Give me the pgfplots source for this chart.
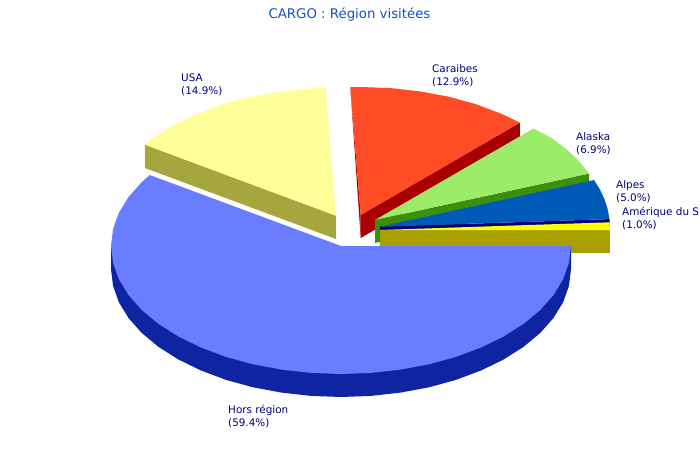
\documentclass[border=0pt]{standalone}
\usepackage{fontspec}
\setmainfont{DejaVu Sans}
\usepackage{pgfplots}
\pgfplotsset{compat=1.18}

\definecolor{horsTop}{HTML}{6A7CFF}
\definecolor{horsSide}{HTML}{0F24A0}
\definecolor{usaTop}{HTML}{FFFF99}
\definecolor{usaSide}{HTML}{A6A63F}
\definecolor{carTop}{HTML}{FF4C26}
\definecolor{carSide}{HTML}{A80000}
\definecolor{alaTop}{HTML}{9CEC6A}
\definecolor{alaSide}{HTML}{3E8E0E}
\definecolor{alpTop}{HTML}{005AB8}
\definecolor{alpSide}{HTML}{00007F}
\definecolor{amTop}{HTML}{FFFF00}
\definecolor{amSide}{HTML}{A8A000}
\definecolor{labelcol}{HTML}{000080}
\definecolor{titlecol}{HTML}{1450C8}

\pgfplotsset{slice/.style={draw=none, mark=none, forget plot}}
\tikzset{lab/.style={anchor=north west, inner sep=0pt, align=left, text=labelcol,
	font=\fontsize{10.4}{13}\selectfont}}

\begin{document}
\begin{tikzpicture}
\path[use as bounding box] (0,0) rectangle (700pt,460pt);
\begin{axis}[
	at={(0,0)}, anchor=south west,
	scale only axis,
	width=700pt, height=460pt,
	xmin=0, xmax=700, ymin=0, ymax=460,
	y dir=reverse,
	hide axis,
]
	%% USA
	\addplot[slice, fill=usaSide] coordinates {
		(144.9,144.7) (336,215.7) (336,239) (144.9,168)
	};
	\addplot[slice, fill=usaTop] coordinates {
		(336,215.7) (144.9,144.7) (153.5,137.8) (173.4,125.2) (196,114.2) (221,104.8)
		(248,97.4) (276.5,92.1) (306,88.8) (325.6,87.8)
	};

	%% Caraibes
	\addplot[slice, fill=carSide] coordinates {
		(360.7,215) (519.9,122.6) (519.9,145.6) (360.7,238)
	};
	\addplot[slice, fill=carSide] coordinates {
		(350.3,87.1) (360.7,215) (360.7,238)
	};
	\addplot[slice, fill=carTop] coordinates {
		(360.7,215) (350.3,87.1) (360.7,87) (390.7,88.1) (420.2,91.4) (448.7,96.7)
		(475.7,104.1) (500.7,113.5) (519.9,122.6)
	};

	%% Alaska
	\addplot[slice, fill=alaSide] coordinates {
		(375,220) (589.1,173.5) (589.1,196.5) (375,243)
	};
	\addplot[slice, fill=alaTop] coordinates {
		(375,220) (533.5,128.5) (551.2,137.7) (565.7,148.4) (578.1,160) (589.1,173.5)
	};

	%% Alpes
	\addplot[slice, fill=alpSide] coordinates {
		(379.9,226.7) (609.5,219.1) (609.5,242) (379.9,249.7)
	};
	\addplot[slice, fill=alpTop] coordinates {
		(379.9,226.7) (594,180) (599.8,189.3) (604.4,199) (607.6,208.9) (609.5,219.1)
	};

	%% Amerique du Sud
	\addplot[slice, fill=amSide] coordinates {
		(380,230) (610,230) (610,253) (380,253)
	};
	\addplot[slice, fill=amTop] coordinates {
		(380,230) (609.5,222.3) (610,230)
	};

	%% Hors region
	\addplot[slice, fill=horsSide] coordinates {
		(571,246) (571,269) (569,285.7) (563.2,302.1) (553.5,318) (540.2,333) (523.5,346.9)
		(503.6,359.5) (481,370.5) (456,379.9) (429,387.3) (400.5,392.6) (371,395.9)
		(341,397) (311,395.9) (281.5,392.6) (253,387.3) (226,379.9) (201,370.5)
		(178.4,359.5) (158.5,346.9) (141.8,333) (128.5,318) (118.8,302.1) (113,285.7)
		(111,269) (111,246)
	};
	\addplot[slice, fill=horsTop] coordinates {
		(341,246) (571,246) (569,262.7) (563.2,279.1) (553.5,295) (540.2,310) (523.5,323.9)
		(503.6,336.5) (481,347.5) (456,356.9) (429,364.3) (400.5,369.6) (371,372.9)
		(341,374) (311,372.9) (281.5,369.6) (253,364.3) (226,356.9) (201,347.5)
		(178.4,336.5) (158.5,323.9) (141.8,310) (128.5,295) (118.8,279.1) (113,262.7)
		(111,246) (113,229.3) (118.8,212.9) (128.5,197) (141.8,182) (149.7,175)
	};

	\node[anchor=north, inner sep=0pt, text=titlecol, font=\fontsize{13.3}{16}\selectfont]
		at (axis cs:349.5,8) {CARGO : Région visitées};
	\node[lab] at (axis cs:181,74) {USA\\(14.9\%)};
	\node[lab] at (axis cs:432,64) {Caraibes\\(12.9\%)};
	\node[lab] at (axis cs:576,132) {Alaska\\(6.9\%)};
	\node[lab] at (axis cs:616,180) {Alpes\\(5.0\%)};
	\node[lab] at (axis cs:622,206.5) {Amérique du S\\(1.0\%)};
	\node[lab] at (axis cs:228,405) {Hors région\\(59.4\%)};
\end{axis}
\end{tikzpicture}
\end{document}
